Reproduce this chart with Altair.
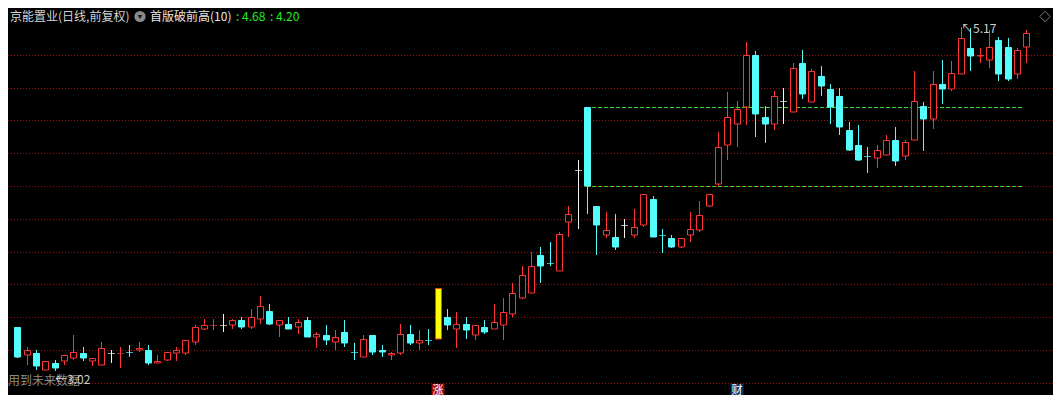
import altair as alt
import pandas as pd

# ---------------- data ----------------
opens = [3.34, 3.17, 3.18, 3.08, 3.12, 3.13, 3.15, 3.18, 3.13, 3.11,
         3.18, 3.18, 3.19, 3.20, 3.20, 3.12, 3.14, 3.18, 3.18, 3.25,
         3.33, 3.35, 3.35, 3.35, 3.38, 3.34, 3.39, 3.44, 3.35, 3.36,
         3.34, 3.38, 3.28, 3.29, 3.25, 3.31, 3.19, 3.16, 3.29, 3.20,
         3.17, 3.18, 3.30, 3.24, 3.26, 3.27, 3.40, 3.33, 3.36, 3.29,
         3.34, 3.33, 3.35, 3.42, 3.52, 3.55, 3.78, 3.73, 3.68, 3.98,
         4.30, 4.68, 4.08, 3.90, 3.89, 3.96, 3.90, 3.96, 4.12, 3.90,
         3.88, 3.83, 3.90, 3.93, 4.08, 4.21, 4.45, 4.58, 4.68, 5.00,
         4.62, 4.58, 4.72, 4.65, 4.95, 4.71, 4.87, 4.79, 4.75, 4.54,
         4.45, 4.38, 4.37, 4.39, 4.48, 4.38, 4.48, 4.69, 4.61, 4.82,
         4.79, 4.88, 5.04, 4.99, 4.97, 5.09, 5.05, 4.88, 5.05]
highs = [3.34, 3.22, 3.20, 3.13, 3.14, 3.17, 3.29, 3.22, 3.15, 3.25,
         3.20, 3.22, 3.23, 3.25, 3.23, 3.17, 3.19, 3.22, 3.26, 3.35,
         3.39, 3.39, 3.42, 3.39, 3.40, 3.45, 3.53, 3.48, 3.38, 3.40,
         3.39, 3.40, 3.31, 3.35, 3.32, 3.38, 3.24, 3.29, 3.29, 3.23,
         3.19, 3.36, 3.35, 3.32, 3.33, 3.58, 3.45, 3.43, 3.40, 3.35,
         3.38, 3.48, 3.52, 3.61, 3.71, 3.80, 3.83, 3.86, 3.92, 4.08,
         4.36, 4.68, 4.08, 4.04, 4.03, 4.00, 4.06, 4.15, 4.14, 3.94,
         3.90, 3.88, 4.04, 4.11, 4.15, 4.53, 4.77, 4.72, 5.08, 5.02,
         4.69, 4.78, 4.80, 4.95, 5.03, 4.91, 4.93, 4.82, 4.80, 4.59,
         4.57, 4.44, 4.45, 4.51, 4.56, 4.48, 4.90, 4.71, 4.90, 4.97,
         4.96, 5.17, 5.16, 5.04, 5.15, 5.11, 5.10, 5.04, 5.15]
lows = [3.15, 3.11, 3.08, 3.08, 3.07, 3.11, 3.14, 3.13, 3.10, 3.11,
        3.12, 3.09, 3.16, 3.19, 3.11, 3.12, 3.13, 3.13, 3.17, 3.23,
        3.32, 3.32, 3.31, 3.33, 3.33, 3.33, 3.36, 3.35, 3.28, 3.33,
        3.30, 3.28, 3.21, 3.23, 3.20, 3.22, 3.14, 3.16, 3.17, 3.16,
        3.14, 3.17, 3.23, 3.20, 3.23, 3.27, 3.32, 3.21, 3.27, 3.26,
        3.30, 3.33, 3.26, 3.40, 3.51, 3.55, 3.61, 3.71, 3.68, 3.89,
        3.94, 4.03, 3.78, 3.88, 3.81, 3.88, 3.88, 3.95, 3.89, 3.79,
        3.82, 3.82, 3.86, 3.92, 4.07, 4.20, 4.36, 4.44, 4.57, 4.50,
        4.46, 4.54, 4.58, 4.65, 4.73, 4.71, 4.75, 4.58, 4.51, 4.41,
        4.35, 4.28, 4.31, 4.39, 4.32, 4.36, 4.48, 4.41, 4.55, 4.70,
        4.78, 4.88, 4.90, 4.95, 4.92, 4.84, 4.84, 4.85, 4.95]
closes = [3.16, 3.20, 3.10, 3.13, 3.09, 3.17, 3.19, 3.15, 3.15, 3.21,
          3.18, 3.18, 3.19, 3.21, 3.12, 3.13, 3.19, 3.20, 3.26, 3.34,
          3.35, 3.35, 3.35, 3.38, 3.34, 3.40, 3.47, 3.36, 3.38, 3.33,
          3.37, 3.28, 3.30, 3.26, 3.28, 3.24, 3.19, 3.27, 3.19, 3.19,
          3.18, 3.30, 3.24, 3.26, 3.26, 3.58, 3.35, 3.36, 3.32, 3.35,
          3.31, 3.37, 3.43, 3.55, 3.66, 3.71, 3.71, 3.73, 3.91, 4.03,
          4.30, 4.20, 3.96, 3.93, 3.83, 3.96, 3.95, 4.15, 3.89, 3.90,
          3.83, 3.88, 3.94, 4.02, 4.15, 4.44, 4.62, 4.67, 5.00, 4.64,
          4.58, 4.75, 4.72, 4.92, 4.76, 4.90, 4.81, 4.68, 4.56, 4.42,
          4.36, 4.38, 4.42, 4.48, 4.35, 4.47, 4.72, 4.61, 4.82, 4.79,
          4.89, 5.10, 4.99, 5.00, 5.05, 4.88, 4.85, 5.03, 5.13]
# candles whose open equals close (drawn as crosses) and their colour
cross_colors = {10: "white", 11: "red", 12: "cyan", 21: "red", 22: "white",
                36: "cyan", 44: "cyan", 57: "cyan", 60: "white", 65: "white",
                69: "cyan", 82: "white", 91: "cyan"}
signal_index = 45          # 涨
finance_index = 77         # 财
level_values = [4.68, 4.20]
level_from = 60.85
level_to = 107.6
grid_levels = [3.0, 3.2, 3.4, 3.6, 3.8, 4.0, 4.2, 4.4, 4.6, 4.8, 5.0]
title_name = "京能置业(日线,前复权)"
indicator_name = "首版破前高(10)"
indicator_values = [": 4.68", ": 4.20"]
low_text = "←3.02"
future_text = "用到未来数据"

# ---------------- styles ----------------
RED = "#ff3434"
CYAN = "#54fcfc"
WHITE = "#f4f4f4"
YELLOW = "#ffff00"
GREEN = "#34d834"
FONT = "Noto Sans CJK SC"
W, H = 1045, 387

palette = {"red": RED, "cyan": CYAN, "white": WHITE}
rows = []
for i, (o, h, l, c) in enumerate(zip(opens, highs, lows, closes)):
    if i in cross_colors:
        kind, col, fill = "cross", palette[cross_colors[i]], palette[cross_colors[i]]
    elif i == signal_index:
        kind, col, fill = "body", RED, YELLOW
    elif c > o:
        kind, col, fill = "body", RED, "#000000"
    else:
        kind, col, fill = "body", CYAN, CYAN
    rows.append(dict(i=i, o=o, h=h, l=l, c=c, top=max(o, c), bot=min(o, c),
                     kind=kind, col=col, fill=fill))
df = pd.DataFrame(rows)

xs = alt.Scale(domain=[-0.452, 110.33], round=True)
ys = alt.Scale(domain=[2.9257, 5.2847], zero=False, nice=False, round=True)


def X(f):
    return alt.X(f, type="quantitative", scale=xs, axis=None)


def Y(f):
    return alt.Y(f, type="quantitative", scale=ys, axis=None)


base = alt.Chart(df)

# grid lines (dotted dark red)
grid = alt.Chart(pd.DataFrame({"g": grid_levels})).mark_rule(
    color="#a01212", strokeDash=[1, 2], strokeWidth=1, yOffset=0.5
).encode(y=Y("g"), x=alt.value(0), x2=alt.value(W))

wicks = base.mark_rule(strokeWidth=1, xOffset=0.5).encode(
    x=X("i"), y=Y("l"), y2=alt.Y2("h"),
    color=alt.Color("col:N", scale=None),
)

bodies = base.transform_filter(alt.datum.kind == "body").mark_bar(
    size=6, strokeWidth=1, xOffset=0.5, yOffset=0.5
).encode(
    x=X("i"), y=Y("top"), y2=alt.Y2("bot"),
    fill=alt.Fill("fill:N", scale=None),
    stroke=alt.Stroke("col:N", scale=None),
)

crosses = base.transform_filter(alt.datum.kind == "cross").mark_tick(
    orient="horizontal", size=7, thickness=1, xOffset=0.5, yOffset=0.5
).encode(
    x=X("i"), y=Y("c"),
    color=alt.Color("col:N", scale=None),
)

lv = pd.DataFrame({"v": level_values, "s": [level_from] * 2, "e": [level_to] * 2})
levels = alt.Chart(lv).mark_rule(
    color=GREEN, strokeDash=[4, 2], strokeWidth=1, yOffset=0.5
).encode(x=X("s"), x2=alt.X2("e"), y=Y("v"))

hi_i = max(range(len(highs)), key=lambda k: highs[k])
lo_i = min(range(len(lows)), key=lambda k: lows[k])
hi_df = pd.DataFrame({"i": [hi_i], "v": [highs[hi_i]], "t": ["↖" + f"{highs[hi_i]:.2f}"]})
lo_df = pd.DataFrame({"i": [lo_i], "v": [lows[lo_i]], "t": [low_text]})

hi_label = alt.Chart(hi_df).mark_text(
    align="left", baseline="middle", dy=2, fontSize=12, font=FONT, color="#cfcfcf"
).encode(x=X("i"), y=Y("v"), text="t:N")

future = alt.Chart(pd.DataFrame({"t": [future_text]})).mark_text(
    align="left", baseline="middle", fontSize=12, font=FONT, color="#8a8a8a"
).encode(x=alt.value(0), y=alt.value(372.5), text="t:N")

lo_label = alt.Chart(lo_df).mark_text(
    align="left", baseline="middle", dy=9, fontSize=12, font=FONT, color="#cfcfcf"
).encode(x=X("i"), y=Y("v"), text="t:N")

# header
t1 = alt.Chart(pd.DataFrame({"t": [title_name]})).mark_text(
    align="left", baseline="middle", fontSize=12, font=FONT, color="#d4d4d4"
).encode(x=alt.value(2), y=alt.value(8.5), text="t:N")
icon = alt.Chart(pd.DataFrame({"t": ["o"]})).mark_point(
    shape="circle", filled=True, size=125, color="#8a8a8a", opacity=1
).encode(x=alt.value(132), y=alt.value(8.5))
chev = alt.Chart(pd.DataFrame({"t": ["v"]})).mark_point(
    shape="triangle-down", filled=True, size=22, color="#1a1a1a", opacity=1
).encode(x=alt.value(132), y=alt.value(9))
t2 = alt.Chart(pd.DataFrame({"t": [indicator_name]})).mark_text(
    align="left", baseline="middle", fontSize=12, font=FONT, color="#e6e6e6"
).encode(x=alt.value(142), y=alt.value(8.5), text="t:N")
t3 = alt.Chart(pd.DataFrame({"t": [indicator_values[0]]})).mark_text(
    align="left", baseline="middle", fontSize=12, font=FONT, color="#22f022"
).encode(x=alt.value(228), y=alt.value(8.5), text="t:N")
t4 = alt.Chart(pd.DataFrame({"t": [indicator_values[1]]})).mark_text(
    align="left", baseline="middle", fontSize=12, font=FONT, color="#22f022"
).encode(x=alt.value(262), y=alt.value(8.5), text="t:N")
diamond = alt.Chart(pd.DataFrame({"t": ["d"]})).mark_point(
    shape="diamond", filled=False, size=110, color="#7a7a7a", strokeWidth=1, opacity=1
).encode(x=alt.value(1037), y=alt.value(8.5))

# bottom markers
mk = pd.DataFrame({"i": [signal_index, finance_index], "t": ["涨", "财"],
                   "bg": ["#a00c0c", "#0c3868"]})
mk_box = alt.Chart(mk).mark_square(size=165, opacity=1).encode(
    x=X("i"), y=alt.value(382.5), color=alt.Color("bg:N", scale=None)
)
mk_txt = alt.Chart(mk).mark_text(
    align="center", baseline="middle", fontSize=11, font=FONT, color="#ffffff"
).encode(x=X("i"), y=alt.value(382.5), text="t:N")

chart = alt.layer(
    grid, wicks, levels, bodies, crosses, future, hi_label, lo_label,
    t1, icon, chev, t2, t3, t4, diamond, mk_box, mk_txt
).properties(
    width=W, height=H, background="#000000", padding=0,
    autosize=alt.AutoSizeParams(type="none")
).configure_view(stroke=None)

chart.save("out.html", embed_options={"renderer": "svg", "actions": False})
